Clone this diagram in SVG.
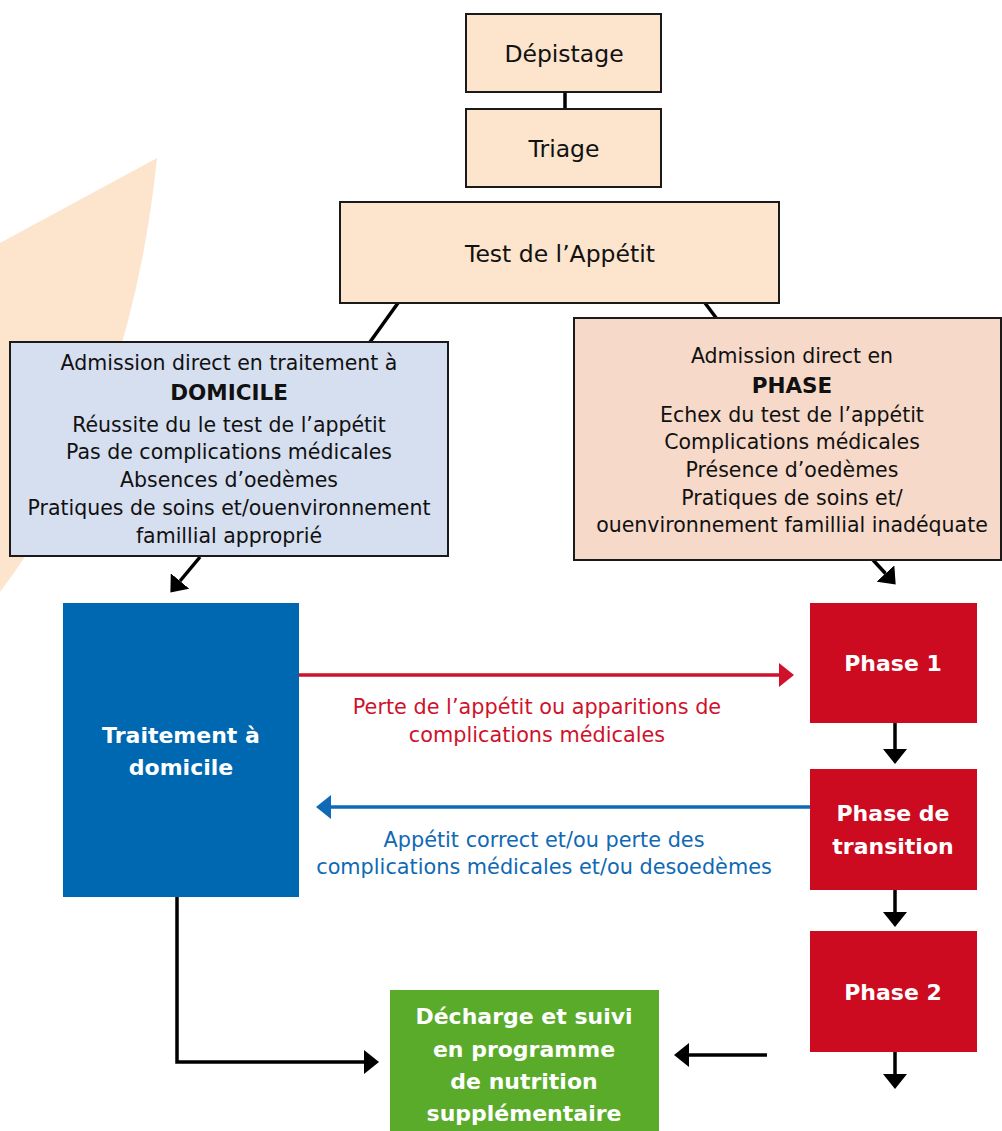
<svg xmlns="http://www.w3.org/2000/svg" width="1002" height="1131" viewBox="0 0 1002 1131">
  <defs>
    <style>
      .box { stroke: #1a1a1a; stroke-width: 2; }
      .peach { fill: #fde4cd; }
      .t { font-family: "DejaVu Sans", sans-serif; text-anchor: middle; fill: #111; }
      .top { font-size: 23.5px; }
      .body { font-size: 20.5px; }
      .bhead { font-size: 21.5px; font-weight: bold; }
      .w { font-family: "DejaVu Sans", sans-serif; text-anchor: middle; fill: #fff; font-size: 22px; font-weight: bold; }
      .lbl { font-family: "DejaVu Sans", sans-serif; text-anchor: middle; font-size: 20.8px; }
      .blk { stroke: #000; stroke-width: 3.5; fill: none; }
    </style>
    <marker id="hk" viewBox="0 0 15 24" refX="0" refY="12" markerWidth="15" markerHeight="24" markerUnits="userSpaceOnUse" orient="auto">
      <path d="M0,0 L15,12 L0,24 Z" fill="#000"/>
    </marker>
    <marker id="hr" viewBox="0 0 15 24" refX="0" refY="12" markerWidth="15" markerHeight="24" markerUnits="userSpaceOnUse" orient="auto">
      <path d="M0,0 L15,12 L0,24 Z" fill="#d0112b"/>
    </marker>
    <marker id="hb" viewBox="0 0 15 24" refX="0" refY="12" markerWidth="15" markerHeight="24" markerUnits="userSpaceOnUse" orient="auto">
      <path d="M0,0 L15,12 L0,24 Z" fill="#0f69b4"/>
    </marker>
  </defs>

  <rect x="0" y="0" width="1002" height="1131" fill="#fff"/>

  <!-- background shape -->
  <path class="peach" d="M0,243 L157,158 Q130,420 0,592 Z"/>

  <!-- connectors -->
  <g id="connectors">
    <line x1="565" y1="92" x2="565" y2="109" class="blk" stroke-width="4"/>
    <line x1="398" y1="303" x2="370" y2="342" class="blk" stroke-width="4"/>
    <line x1="705" y1="303" x2="717" y2="319" class="blk" stroke-width="4"/>
    <line x1="200" y1="557" x2="180" y2="581" class="blk" marker-end="url(#hk)"/>
    <line x1="873" y1="560" x2="885.5" y2="573.5" class="blk" marker-end="url(#hk)"/>
    <line x1="299" y1="675" x2="779" y2="675" stroke="#d0112b" stroke-width="3.5" marker-end="url(#hr)"/>
    <line x1="810" y1="807" x2="331" y2="807" stroke="#0f69b4" stroke-width="3.5" marker-end="url(#hb)"/>
    <line x1="895" y1="723" x2="895" y2="749" class="blk" marker-end="url(#hk)"/>
    <line x1="895" y1="890" x2="895" y2="912" class="blk" marker-end="url(#hk)"/>
    <line x1="895" y1="1052" x2="895" y2="1074" class="blk" marker-end="url(#hk)"/>
    <polyline points="177,897 177,1062 364,1062" class="blk" stroke-width="4" marker-end="url(#hk)"/>
    <line x1="767" y1="1055" x2="689" y2="1055" class="blk" marker-end="url(#hk)"/>
    <text class="lbl" fill="#d0112b" x="537" y="714">Perte de l’appétit ou apparitions de</text>
    <text class="lbl" fill="#d0112b" x="537" y="742">complications médicales</text>
    <text class="lbl" fill="#0f69b4" x="544" y="847">Appétit correct et/ou perte des</text>
    <text class="lbl" fill="#0f69b4" x="544" y="874">complications médicales et/ou desoedèmes</text>
  </g>

  <g id="depistage">
    <rect x="466" y="14" width="195" height="78" class="box peach"/>
    <text class="t top" x="564" y="61.5">Dépistage</text>
  </g>

  <g id="triage">
    <rect x="466" y="109" width="195" height="78" class="box peach"/>
    <text class="t top" x="564" y="157">Triage</text>
  </g>

  <g id="test">
    <rect x="340" y="202" width="439" height="101" class="box peach"/>
    <text class="t top" x="560" y="262">Test de l’Appétit</text>
  </g>

  <g id="domicile-admission">
    <rect x="10" y="342" width="438" height="214" class="box" fill="#d6dff0"/>
    <text class="t body" x="229" y="370">Admission direct en traitement à</text>
    <text class="t bhead" x="229" y="400">DOMICILE</text>
    <text class="t body" x="229" y="432">Réussite du le test de l’appétit</text>
    <text class="t body" x="229" y="459">Pas de complications médicales</text>
    <text class="t body" x="229" y="487">Absences d’oedèmes</text>
    <text class="t body" x="229" y="515">Pratiques de soins et/ouenvironnement</text>
    <text class="t body" x="229" y="543">famillial approprié</text>
  </g>

  <g id="phase-admission">
    <rect x="574" y="318" width="427" height="242" class="box" fill="#f7d9c9"/>
    <text class="t body" x="792" y="363">Admission direct en</text>
    <text class="t bhead" x="792" y="393">PHASE</text>
    <text class="t body" x="792" y="422">Echex du test de l’appétit</text>
    <text class="t body" x="792" y="449">Complications médicales</text>
    <text class="t body" x="792" y="477">Présence d’oedèmes</text>
    <text class="t body" x="792" y="505">Pratiques de soins et/</text>
    <text class="t body" x="792" y="532">ouenvironnement famillial inadéquate</text>
  </g>

  <g id="traitement">
    <rect x="63" y="603" width="236" height="294" fill="#0067b1"/>
    <text class="w" x="181" y="743">Traitement à</text>
    <text class="w" x="181" y="775">domicile</text>
  </g>

  <g id="phase1">
    <rect x="810" y="603" width="167" height="120" fill="#cc0a20"/>
    <text class="w" x="893" y="671">Phase 1</text>
  </g>

  <g id="transition">
    <rect x="810" y="769" width="167" height="121" fill="#cc0a20"/>
    <text class="w" x="893" y="821">Phase de</text>
    <text class="w" x="893" y="854">transition</text>
  </g>

  <g id="phase2">
    <rect x="810" y="931" width="167" height="121" fill="#cc0a20"/>
    <text class="w" x="893" y="1000">Phase 2</text>
  </g>

  <g id="decharge">
    <rect x="390" y="990" width="269" height="141" fill="#5aab2a"/>
    <text class="w" x="524" y="1024">Décharge et suivi</text>
    <text class="w" x="524" y="1057">en programme</text>
    <text class="w" x="524" y="1089">de nutrition</text>
    <text class="w" x="524" y="1121">supplémentaire</text>
  </g>
</svg>
